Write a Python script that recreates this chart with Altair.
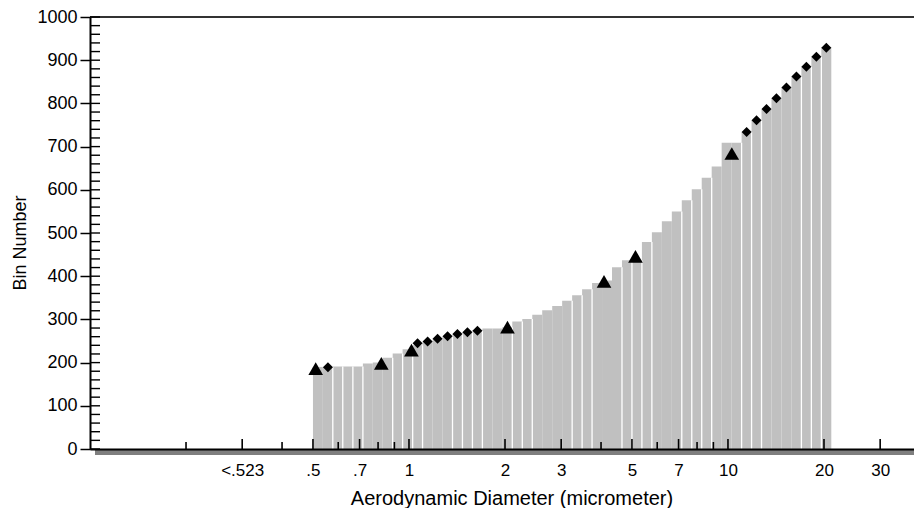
import altair as alt
import pandas as pd

# ---------------- data ----------------
# channel boundaries of the sizer (micrometer), 53 edges -> 52 channels
bin_edges = [0.5, 0.537, 0.577, 0.620, 0.667, 0.717, 0.770, 0.827, 0.889, 0.955,
             1.027, 1.103, 1.186, 1.274, 1.369, 1.471, 1.581, 1.699, 1.826, 1.962,
             2.108, 2.266, 2.435, 2.616, 2.812, 3.021, 3.247, 3.489, 3.749, 4.029,
             4.330, 4.653, 5.0, 5.373, 5.774, 6.205, 6.668, 7.165, 7.700, 8.274,
             8.891, 9.555, 10.268, 11.034, 11.857, 12.741, 13.692, 14.714, 15.811,
             16.991, 18.259, 19.621, 21.085]
# bin number of each channel
bin_numbers = [190, 190, 191, 191, 191, 198, 200, 211, 221, 231,
               240, 248, 255, 261, 266, 271, 274, 279, 279, 282,
               295, 301, 311, 321, 331, 343, 356, 370, 384, 390,
               421, 437, 437, 479, 502, 527, 550, 576, 601, 628,
               654, 709, 709, 734, 761, 787, 812, 837, 862, 885,
               908, 930]
# channel boundaries where a white separator line is visible
separator_index = [2, 3, 4, 5, 8, 9, 10, 11, 14, 15, 16, 17, 20, 21, 22,
                   26, 27, 28, 31, 32, 33, 34, 37, 38, 39, 40, 43, 44, 45,
                   49, 50, 51]
# triangle markers
triangle_diam = [0.510, 0.819, 1.018, 2.036, 4.087, 5.129, 10.28]
triangle_bin = [186, 198, 229, 282, 388, 446, 684]
# diamond markers
diamond_diam = [0.557, 1.064, 1.144, 1.229, 1.321, 1.419, 1.525, 1.639,
                11.44, 12.29, 13.21, 14.19, 15.25, 16.39, 17.61, 18.93, 20.34]
diamond_bin = [189, 245, 249, 255, 261, 266, 270, 274,
               734, 761, 787, 812, 837, 862, 885, 908, 929]

# axis ticks
x_major_ticks = [0.3, 0.5, 0.7, 1, 2, 3, 5, 7, 10, 20, 30]
x_tick_labels = ["<.523", ".5", ".7", "1", "2", "3", "5", "7", "10", "20", "30"]
x_minor_ticks = [0.2, 0.4, 0.6, 0.8, 0.9, 4, 6, 8, 9]
y_major_ticks = list(range(0, 1001, 100))
y_minor_ticks = list(range(0, 1001, 20))

# ---------------- layout ----------------
W, H = 824, 432
FONT = "Liberation Sans"

xscale = alt.Scale(type="log", domain=[0.1, 38.3], nice=False)
yscale = alt.Scale(domain=[0, 1000], nice=False, zero=True)

bars_df = pd.DataFrame({"lo": bin_edges[:-1], "hi": bin_edges[1:],
                        "bin": bin_numbers, "base": 0})
sep_df = pd.DataFrame({
    "lo": [bin_edges[i] for i in separator_index],
    "bin": [min(bin_numbers[i - 1], bin_numbers[min(i, len(bin_numbers) - 1)])
            for i in separator_index],
    "base": 0,
})
tri_df = pd.DataFrame({"lo": triangle_diam, "bin": triangle_bin})
dia_df = pd.DataFrame({"lo": diamond_diam, "bin": diamond_bin})
xmaj_df = pd.DataFrame({"lo": x_major_ticks})
xmin_df = pd.DataFrame({"lo": x_minor_ticks})
ymin_df = pd.DataFrame({"bin": y_minor_ticks})
one_df = pd.DataFrame({"a": [0]})

label_expr = " : ".join(
    f"datum.value == {v} ? '{l}'" for v, l in zip(x_major_ticks, x_tick_labels)
) + " : ''"

x_axis = alt.Axis(
    values=x_major_ticks, labelExpr=label_expr,
    title="Aerodynamic Diameter (micrometer)",
    ticks=False, tickSize=0, grid=False,
    domain=True, domainColor="#000000", domainWidth=2,
    labelFont=FONT, labelFontSize=17, labelColor="#000000", labelPadding=13,
    labelFlush=False, labelOverlap=False,
    titleFont=FONT, titleFontSize=20, titleFontWeight="normal", titleColor="#000000",
    titleX=421.5, titleY=55, titleAlign="center", titleBaseline="alphabetic",
    zindex=1,
)
y_axis = alt.Axis(
    values=y_major_ticks, format="d", title="Bin Number",
    ticks=True, tickSize=10, tickWidth=1.5, tickColor="#000000", grid=False,
    domain=True, domainColor="#000000", domainWidth=2,
    labelFont=FONT, labelFontSize=18, labelColor="#000000", labelPadding=3,
    titleFont=FONT, titleFontSize=18, titleFontWeight="normal", titleColor="#000000",
    titleAngle=270, titleX=-65, titleY=225.5, titleAlign="center",
    titleBaseline="alphabetic", zindex=1,
)

X = alt.X("lo:Q", scale=xscale, axis=x_axis)
Y = alt.Y("bin:Q", scale=yscale, axis=y_axis)

bars = alt.Chart(bars_df).mark_rect(color="#c0c0c0").encode(
    x=X, x2="hi:Q", y=Y, y2="base:Q",
)

seps = alt.Chart(sep_df).mark_rule(color="#ffffff", strokeWidth=1.3).encode(
    x=X, y=Y, y2="base:Q",
)

band = alt.Chart(one_df).mark_rect(color="#7f7f7f").encode(
    x=alt.value(5), x2=alt.value(W), y=alt.value(H + 1), y2=alt.value(H + 6)
)

top_line = alt.Chart(one_df).mark_rule(color="#333333", strokeWidth=2).encode(
    x=alt.value(0), x2=alt.value(W), y=alt.value(0)
)

y_minor = alt.Chart(ymin_df).mark_rule(color="#000000", strokeWidth=1.4).encode(
    y=Y, x=alt.value(0), x2=alt.value(10)
)

x_major = alt.Chart(xmaj_df).mark_rule(color="#000000", strokeWidth=1.6).encode(
    x=X, y=alt.value(H), y2=alt.value(H - 10)
)
x_minor = alt.Chart(xmin_df).mark_rule(color="#000000", strokeWidth=1.6).encode(
    x=X, y=alt.value(H), y2=alt.value(H - 7)
)

triangles = alt.Chart(tri_df).mark_point(
    shape="triangle-up", filled=True, size=215, color="#000000", opacity=1, strokeWidth=0
).encode(x=X, y=Y)

diamonds = alt.Chart(dia_df).mark_point(
    shape="diamond", filled=True, size=100, color="#000000", opacity=1, strokeWidth=0
).encode(x=X, y=Y)

chart = alt.layer(
    bars, seps, band, top_line, y_minor, x_major, x_minor, triangles, diamonds
).properties(
    width=W, height=H,
    autosize=alt.AutoSizeParams(type="none"),
    padding={"left": 82, "top": 9, "right": 0, "bottom": 59},
    background="#ffffff",
).configure_view(stroke=None)

chart.save("out.html", embed_options={"renderer": "svg", "actions": False})
